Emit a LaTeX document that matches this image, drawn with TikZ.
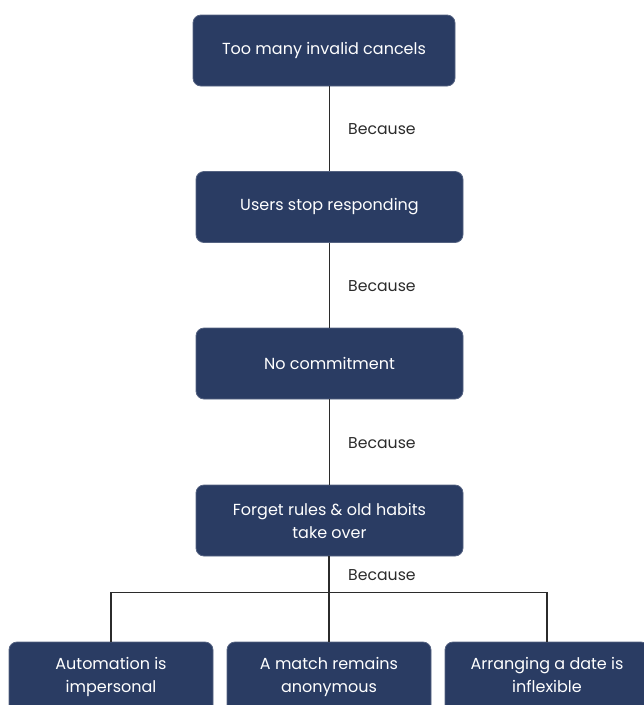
\documentclass[tikz,border=0pt]{standalone}
\usepackage{fontspec}
\setmainfont{Poppins}
\usepackage{xcolor}
\usetikzlibrary{positioning,calc}

\definecolor{causeblue}{HTML}{2A3C63}
\definecolor{linkgray}{HTML}{2B2B2B}

\begin{document}
\begin{tikzpicture}[x=1pt, y=-1pt,
  cause/.style={rectangle, rounded corners=8pt, fill=causeblue, draw=causeblue!80!white, line width=0.8pt,
    text=white, align=center, inner sep=0pt, minimum height=71pt, font=\fontsize{16}{23}\selectfont},
  root/.style={cause, minimum width=204pt, text depth=5pt},
  because/.style={anchor=west, inner sep=0pt, text=linkgray, font=\fontsize{15.7}{18}\selectfont},
  link/.style={draw=linkgray, line width=1.6pt}]
  \clip (0,0) rectangle (644,705);

  % Chain of causes
  \node[cause, minimum width=262pt] (cancels) at (324,50.5) {Too many invalid cancels};
  \node[cause, minimum width=267pt] (users) at (329.5,207) {Users stop responding};
  \node[cause, minimum width=267pt] (commit) at (329.5,363.5) {No commitment};
  \node[cause, minimum width=267pt] (habits) at (329.5,520.5) {Forget rules \& old habits\\take over};

  % Root causes
  \node[root] (autom) at (111,677.5) {Automation is\\impersonal};
  \node[root] (anon) at (329,677.5) {A match remains\\anonymous};
  \node[root] (inflex) at (547,677.5) {Arranging a date is\\inflexible};

  % Links
  \draw[link] (cancels.south -| users.north) -- (users.north);
  \draw[link] (users) -- (commit);
  \draw[link] (commit) -- (habits);
  \coordinate (split) at (329,592.5);
  \draw[link] (habits.south -| split) -- (split);
  \draw[link] (autom.north) |- (split) -| (inflex.north);
  \draw[link] (split) -- (anon.north);

  % Labels
  \foreach \y/\n in {129.5/1, 286/2, 443/3, 575.5/4}
    \node[because] (because\n) at (348,\y) {Because};
\end{tikzpicture}
\end{document}
